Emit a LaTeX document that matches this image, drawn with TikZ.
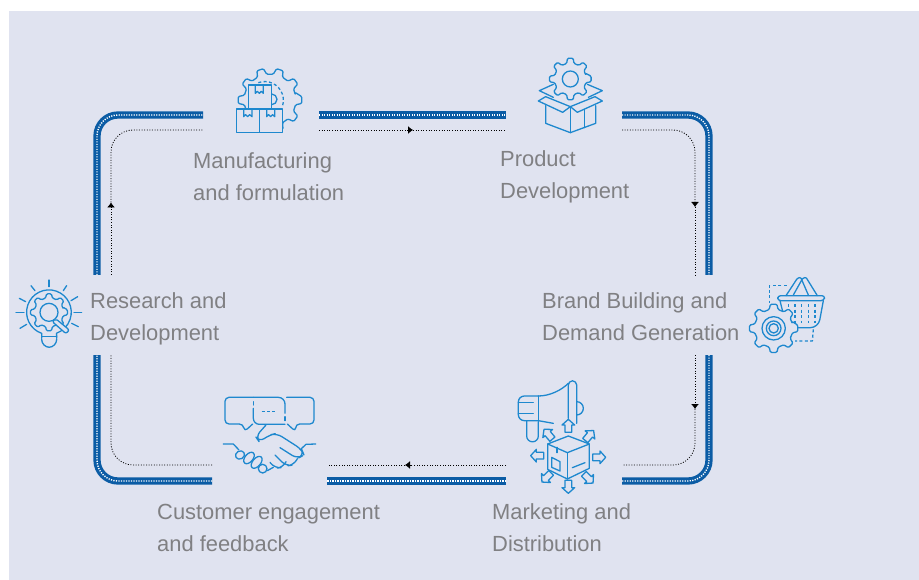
\documentclass[tikz,border=0pt]{standalone}
\usepackage{fontspec}
\setmainfont{Liberation Sans}
\usetikzlibrary{arrows.meta}
\usetikzlibrary{calc}
\definecolor{panel}{RGB}{224,227,240}
\definecolor{ringblue}{RGB}{11,92,165}
\definecolor{iconblue}{RGB}{30,136,206}
\definecolor{labelgray}{RGB}{128,128,131}

% gear outline: centre, outer radius, inner radius, number of teeth
\newcommand{\gearoutline}[4]{%
  \pgfmathsetmacro{\gearstep}{360/#4}
  \pgfmathsetmacro{\gearw}{\gearstep/4.4}
  \draw [icon,fill=panel,rounded corners=1.2pt] ($(#1)+(-\gearw-\gearstep/4:#3)$)
    \foreach \t in {1,...,#4} {
      -- ($(#1)+({\t*\gearstep-\gearstep-\gearw*0.75}:#2)$)
      -- ($(#1)+({\t*\gearstep-\gearstep+\gearw*0.75}:#2)$)
      -- ($(#1)+({\t*\gearstep-\gearstep+\gearw*1.3}:#3)$)
      -- ($(#1)+({\t*\gearstep-\gearw*1.3}:#3)$)
    } -- cycle;
}

\begin{document}
\begin{tikzpicture}[x=1pt,y=-1pt,>={Latex[length=5pt,width=8pt]},
ringbar/.style={ringblue,line width=7.3pt,rounded corners=21pt},
ringdots/.style={white,line width=1.4pt,dash pattern=on 1.2pt off 1.3pt,rounded corners=21pt},
flowline/.style={black,line width=0.8pt,dash pattern=on 1pt off 1.6pt,rounded corners=22pt},
icon/.style={iconblue,line width=1.3pt,line join=round,line cap=round},
icondash/.style={icon,dash pattern=on 3pt off 2.4pt,line cap=butt},
steplabel/.style={labelgray,align=left,inner sep=0pt,anchor=west,font=\fontsize{21.9}{32}\selectfont}]
\useasboundingbox (0,0) rectangle (919,580);
\fill [panel] (9,11) rectangle (919,580);

% ring corners and gap ends
\coordinate (tl) at (97,115);
\coordinate (tr) at (709,115);
\coordinate (br) at (709,481);
\coordinate (bl) at (97,481);
\coordinate (ta) at (203,115);
\coordinate (tb) at (319,115);
\coordinate (tc) at (506,115);
\coordinate (td) at (622,115);
\coordinate (ra) at (709,275);
\coordinate (rb) at (709,355);
\coordinate (ba) at (622,481);
\coordinate (bb) at (506,481);
\coordinate (bc) at (327,481);
\coordinate (bd) at (212,481);
\coordinate (la) at (97,355);
\coordinate (lb) at (97,275);

\foreach \ringstyle in {ringbar,ringdots} {
\draw [\ringstyle] (lb) -- (tl) -- (ta);
\draw [\ringstyle] (tb) -- (tc);
\draw [\ringstyle] (td) -- (tr) -- (ra);
\draw [\ringstyle] (rb) -- (br) -- (ba);
\draw [\ringstyle] (bb) -- (bc);
\draw [\ringstyle] (bd) -- (bl) -- (la);
}

% inner flow line
\coordinate (ftl) at (111,130);
\coordinate (ftr) at (695,130);
\coordinate (fbr) at (695,465);
\coordinate (fbl) at (111,465);
\coordinate (fta) at (203,130);
\coordinate (ftb) at (319,130);
\coordinate (ftm) at (413,130);
\coordinate (ftc) at (506,130);
\coordinate (ftd) at (622,130);
\coordinate (frm) at (695,207);
\coordinate (fra) at (695,275);
\coordinate (frb) at (695,355);
\coordinate (frn) at (695,409);
\coordinate (fba) at (622,465);
\coordinate (fbb) at (506,465);
\coordinate (fbm) at (405,465);
\coordinate (fbc) at (327,465);
\coordinate (fbd) at (212,465);
\coordinate (fla) at (111,355);
\coordinate (flb) at (111,275);
\coordinate (flm) at (111,202.5);

\draw [flowline,->] (ftb) -- (ftm);
\draw [flowline] (ftm) -- (ftc);
\draw [flowline,->] (ftd) -- (ftr) -- (frm);
\draw [flowline] (frm) -- (fra);
\draw [flowline,->] (frb) -- (frn);
\draw [flowline] (frn) -- (fbr) -- (fba);
\draw [flowline,->] (fbb) -- (fbm);
\draw [flowline] (fbm) -- (fbc);
\draw [flowline] (fbd) -- (fbl) -- (fla);
\draw [flowline,->] (flb) -- (flm);
\draw [flowline] (flm) -- (ftl) -- (fta);

\node [steplabel] (manufacturing) at (193,176.5) {Manufacturing\\and formulation};
\node [steplabel] (product) at (500,176.5) {Product\\Development};
\node [steplabel] (brand) at (542,316.5) {Brand Building and\\Demand Generation};
\node [steplabel] (marketing) at (492,528) {Marketing and\\Distribution};
\node [steplabel] (customer) at (157,528) {Customer engagement\\and feedback};
\node [steplabel] (research) at (90,318.5) {Research and\\Development};

% manufacturing icon
\begin{scope}[shift={(0,50)},scale=1/3]
\gearoutline{810,150}{96}{78}{10}
\draw [icondash] (775,98) arc (-110:20:56);
\draw [icon,fill=panel] (815,132) arc (-90:90:16);
\draw [icon,fill=panel] (745,105) rectangle (815,177);
\draw [icon,fill=panel] (709,177) rectangle (779,248);
\draw [icon,fill=panel] (779,177) rectangle (848,248);
\draw [icon] (766,105) -- (766,130) -- (772,124) -- (778,130) -- (784,124) -- (790,130) -- (790,105);
\draw [icon] (731,177) -- (731,200) -- (737,194) -- (743,200) -- (749,194) -- (756,200) -- (756,177);
\draw [icon] (800,177) -- (800,200) -- (806,194) -- (812,200) -- (818,194) -- (824,200) -- (824,177);
\end{scope}

% product icon
\begin{scope}[shift={(490,40)},scale=1/3]
\draw [icon] (190,133) -- (148,152) -- (190,172);
\draw [icon] (292,133) -- (337,152) -- (295,172);
\gearoutline{241,117}{63}{48}{8}
\draw [icon] (241,117) circle (24);
\draw [icon,fill=panel] (241,200) -- (218,217) -- (145,183) -- (167,170) -- (241,200);
\draw [icon,fill=panel] (241,200) -- (262,217) -- (337,183) -- (315,170) -- (241,200);
\draw [icon] (167,197) -- (167,250) -- (241,278) -- (317,250) -- (317,197);
\draw [icon] (241,200) -- (241,278);
\draw [icon] (284,208) -- (284,263);
\end{scope}

% brand icon
\begin{scope}[shift={(680,260)},scale=1/3]
\draw [icondash] (320,77) -- (268,77) -- (268,128);
\draw [icondash] (400,208) -- (397,243) -- (345,243);
\draw [icon,rounded corners=1pt] (318,107) -- (352,55) -- (362,52) -- (385,105);
\draw [icon,rounded corners=1pt] (340,105) -- (368,55) -- (378,52) -- (412,107);
\draw [icon,rounded corners=3pt] (293,122) -- (293,107) -- (435,107) -- (432,122) -- cycle;
\draw [icon,rounded corners=8pt] (300,122) -- (320,203) -- (415,203) -- (430,122);
\foreach \xa in {325,345,365,385,405} {
\draw [icondash] (\xa,133) -- (\xa,190);
}
\gearoutline{281,205}{73}{58}{8}
\draw [icon] (281,205) circle (35);
\draw [icon] (281,205) circle (22);
\draw [icon] (281,205) circle (14);
\end{scope}

% marketing icon
\begin{scope}[shift={(490,370)},scale=1/3]
\draw [icon,rounded corners=6pt] (145,78) -- (85,78) -- (85,152) -- (145,152);
\draw [icon] (145,78) -- (145,152);
\draw [icon] (85,97) -- (130,97);
\draw [icon] (85,130) -- (130,130);
\draw [icon] (145,78) .. controls (180,78) and (215,60) .. (235,40);
\draw [icon] (145,152) -- (190,160);
\draw [icon] (235,145) -- (235,45) arc (180:360:12.5) -- (260,160);
\draw [icon] (260,95) arc (-90:90:20);
\draw [icon] (110,152) -- (110,198) arc (180:0:17.5) -- (145,155);
\foreach \xa/\ya/\ra in {235/168/0,235/350/180,142/257/90,327/262/-90,175/193/40,298/197/-40,170/322/135,295/325/-135} {
\draw [icon,shift={(\xa,\ya)},rotate=\ra] (0,-20) -- (19,-3) -- (10,-3) -- (10,19) -- (-10,19) -- (-10,-3) -- (-19,-3) -- cycle;
}
\draw [icon] (173,222) -- (235,198) -- (298,222) -- (232,248) -- cycle;
\draw [icon] (173,222) -- (173,298) -- (232,327) -- (298,295) -- (298,222);
\draw [icon] (232,248) -- (232,327);
\draw [icon] (201,232) -- (201,248);
\draw [icon] (185,262) -- (210,275) -- (210,303) -- (185,292) -- cycle;
\draw [icon] (247,293) -- (285,278);
\end{scope}

% customer icon
\begin{scope}[shift={(190,380)},scale=1/3]
\draw [icon,rounded corners=4pt] (190,52) -- (105,52) -- (105,132) -- (160,132) -- (163,155) -- (188,132);
\draw [icon,rounded corners=4pt] (290,52) -- (372,52) -- (372,132) -- (317,132) -- (317,155) -- (292,132);
\draw [icon] (190,52) -- (265,52) arc (-90:0:20) -- (285,100);
\draw [icon] (285,110) -- (285,122);
\draw [icon] (190,65) -- (190,75);
\draw [icon] (190,85) -- (190,115) arc (180:90:18) -- (285,133);
\draw [icondash] (215,95) -- (262,95);
\draw [icon] (100,192) -- (130,192) -- (147,210);
\draw [icon] (377,192) -- (348,193) -- (333,207);
\draw [icon,rounded corners=6pt] (228,135) -- (197,170) -- (208,186) -- (238,165) -- (260,160) -- (335,208) -- (342,225) -- (322,236) -- (270,203);
\draw [icon,rounded corners=6pt] (322,236) -- (312,255) -- (288,258) -- (255,225);
\draw [icon,rounded corners=6pt] (288,245) -- (280,262) -- (255,265) -- (240,247);
\draw [icon] (250,262) -- (232,272);
\draw [icon,rotate around={30:(150,225)}] (150,225) ellipse (14 and 12);
\draw [icon,rotate around={50:(177,234)}] (177,234) ellipse (20 and 12);
\draw [icon,rotate around={50:(200,247)}] (200,247) ellipse (21 and 12);
\draw [icon] (218,266) circle (13);
\end{scope}

% research icon
\begin{scope}[shift={(0,270)},scale=1/3]
\foreach \xa/\ya/\xb/\yb in {147/30/147/50,93/47/105/62,200/47/190/62,58/85/77/95,233/80/213/92,48/127/72/127,245/127/222/127,60/175/80/163,235/170/215/160} {
\draw [icon] (\xa,\ya) -- (\xb,\yb);
}
\draw [icon] (125,205) -- (125,190) arc (109:430:67) -- (170,205);
\draw [icon] (125,200) -- (170,200);
\draw [icon,rounded corners=8pt] (125,210) -- (125,232) -- (170,232) -- (170,210);
\gearoutline{147,127}{56}{44}{8}
\draw [icon] (147,127) circle (27);
\draw [icon,rounded corners=2pt,fill=panel] (167,146) -- (208,180) -- (198,191) -- (157,155) -- cycle;
\end{scope}
\end{tikzpicture}
\end{document}
